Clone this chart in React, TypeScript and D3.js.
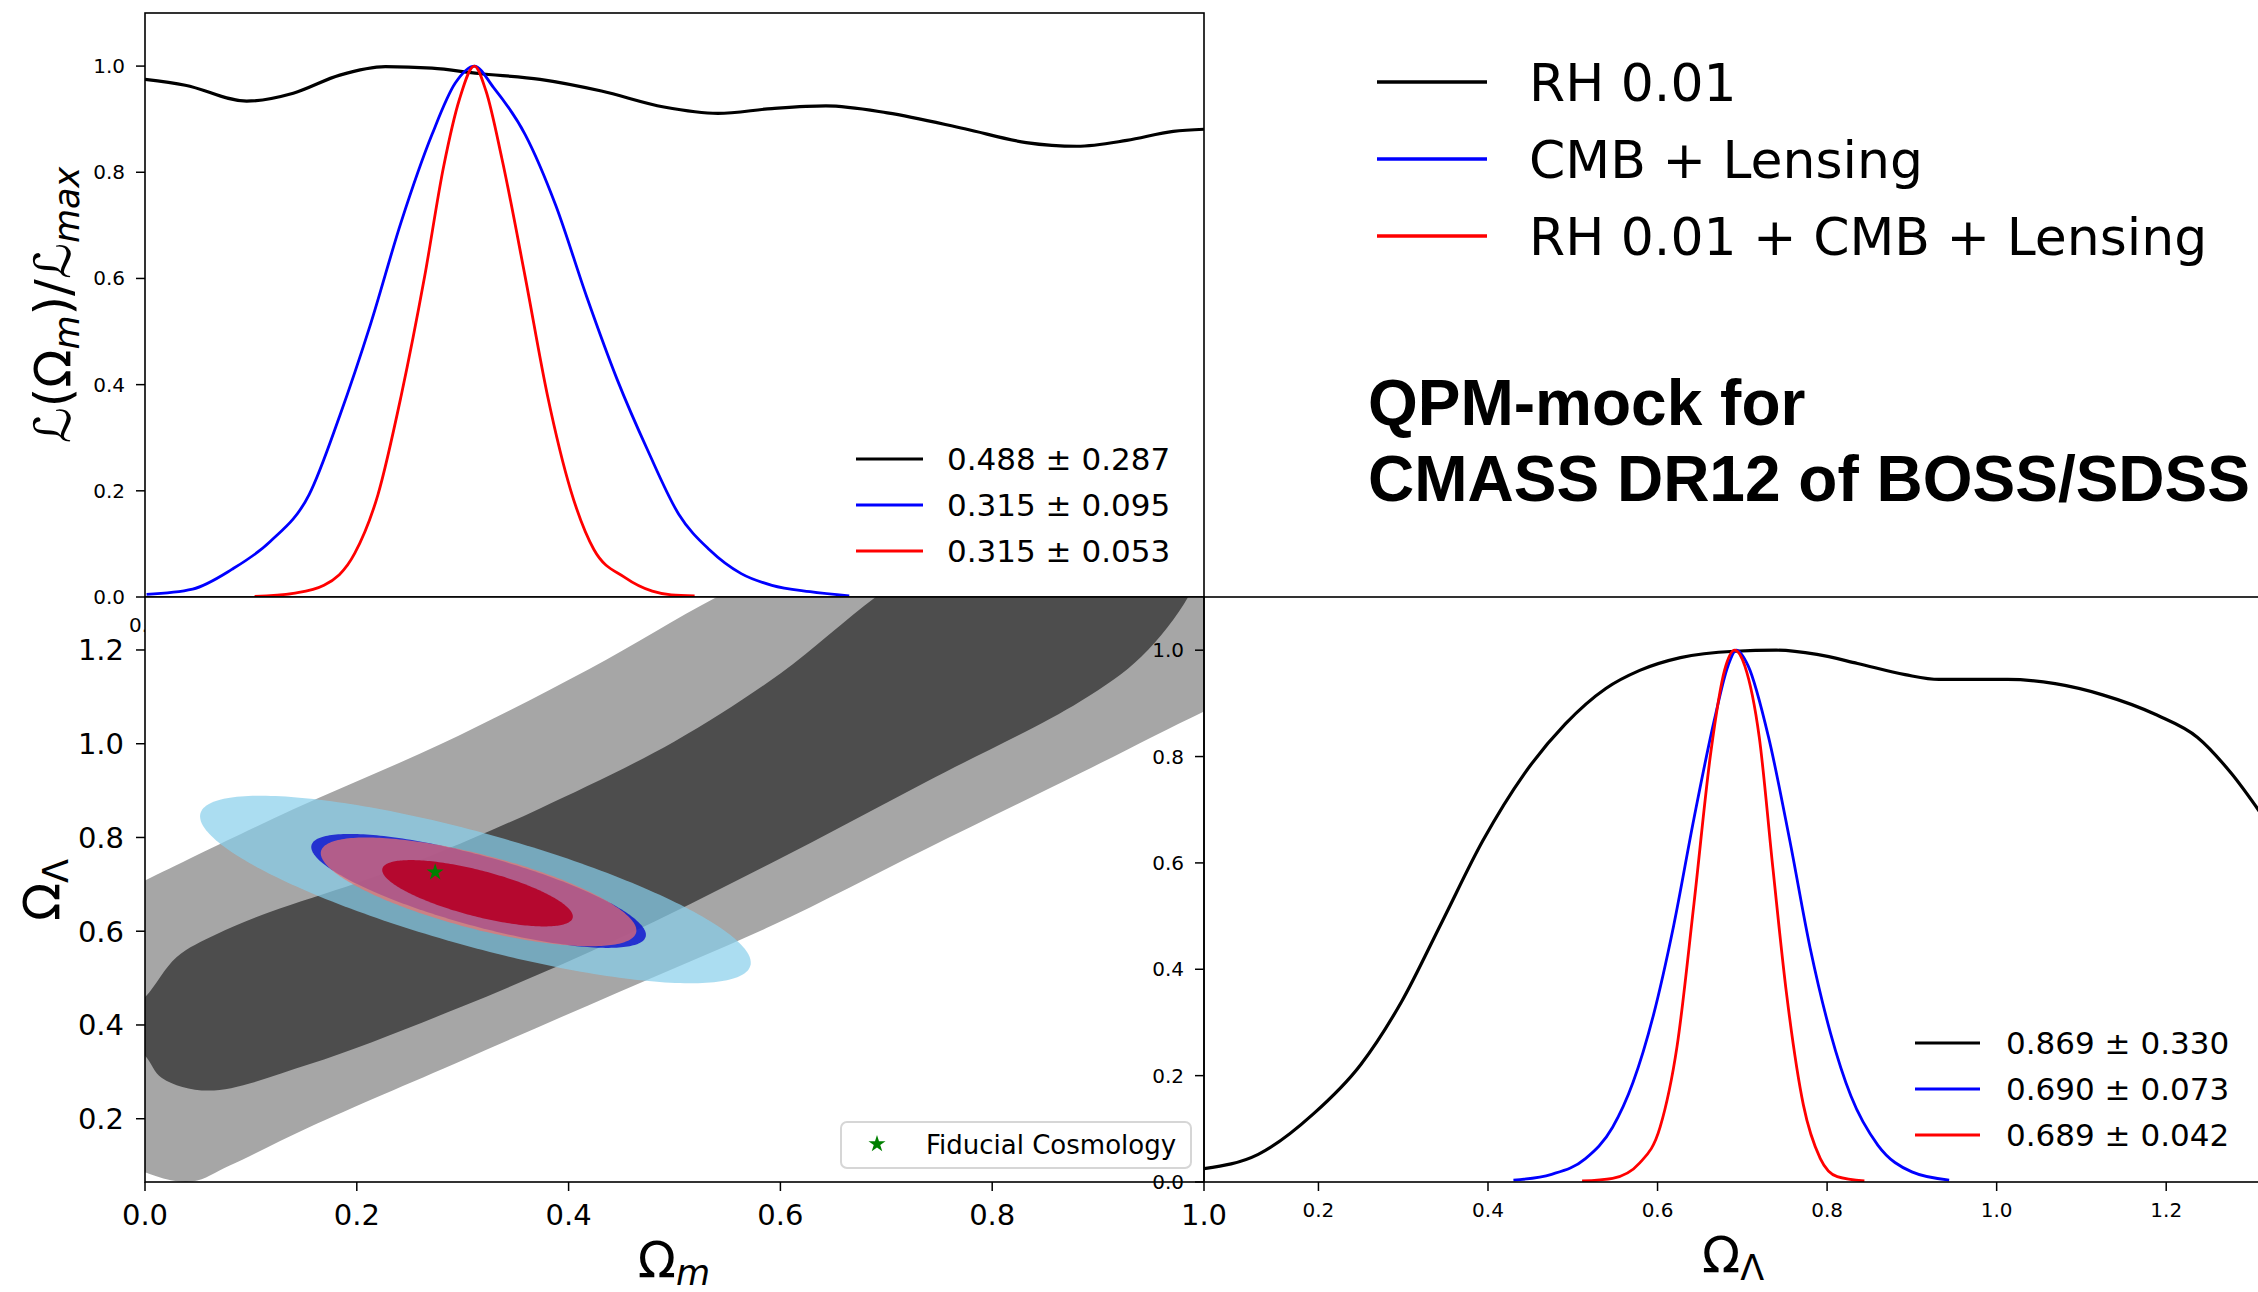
import React from 'react';
import * as d3 from 'd3';

type Pt = [number, number];

const W = 2258;
const H = 1292;

// Normalised marginal likelihood of Omega_m
const omRH: Pt[] = [
  [0.0, 0.975], [0.038, 0.964], [0.096, 0.934], [0.14, 0.949], [0.184, 0.983], [0.227, 0.999],
  [0.271, 0.996], [0.315, 0.986], [0.373, 0.975], [0.431, 0.953], [0.49, 0.923], [0.541, 0.911],
  [0.592, 0.92], [0.643, 0.925], [0.701, 0.912], [0.774, 0.882], [0.832, 0.856], [0.88, 0.849],
  [0.927, 0.86], [0.971, 0.877], [1.0, 0.881],
];
const omCMB: Pt[] = [
  [0.0015, 0.005], [0.045, 0.015], [0.082, 0.052], [0.118, 0.104], [0.155, 0.193], [0.184, 0.342],
  [0.213, 0.514], [0.242, 0.707], [0.271, 0.871], [0.293, 0.968], [0.311, 1.0], [0.329, 0.96],
  [0.359, 0.871], [0.388, 0.737], [0.417, 0.566], [0.446, 0.409], [0.475, 0.275], [0.504, 0.156],
  [0.533, 0.089], [0.563, 0.044], [0.592, 0.022], [0.628, 0.01], [0.665, 0.002],
];
const omComb: Pt[] = [
  [0.1035, 0.001], [0.14, 0.007], [0.169, 0.022], [0.198, 0.082], [0.22, 0.193], [0.242, 0.38],
  [0.264, 0.603], [0.282, 0.811], [0.297, 0.938], [0.311, 1.0], [0.322, 0.953], [0.337, 0.826],
  [0.359, 0.603], [0.38, 0.38], [0.402, 0.201], [0.424, 0.089], [0.453, 0.037], [0.479, 0.011],
  [0.497, 0.004], [0.519, 0.002],
];

// Normalised marginal likelihood of Omega_Lambda
const olRH: Pt[] = [
  [0.065, 0.025], [0.129, 0.052], [0.194, 0.128], [0.25, 0.221], [0.298, 0.339], [0.346, 0.49],
  [0.394, 0.642], [0.443, 0.768], [0.491, 0.861], [0.539, 0.928], [0.579, 0.962], [0.627, 0.986],
  [0.691, 0.998], [0.74, 1.0], [0.788, 0.992], [0.836, 0.975], [0.892, 0.954], [0.932, 0.945],
  [1.013, 0.945], [1.069, 0.937], [1.125, 0.916], [1.189, 0.878], [1.237, 0.836], [1.277, 0.768],
  [1.313, 0.69],
];
const olCMB: Pt[] = [
  [0.43, 0.0035], [0.475, 0.0145], [0.515, 0.044], [0.547, 0.103], [0.571, 0.187], [0.595, 0.313],
  [0.619, 0.482], [0.643, 0.684], [0.667, 0.869], [0.683, 0.97], [0.693, 1.0], [0.707, 0.97],
  [0.731, 0.836], [0.756, 0.642], [0.78, 0.44], [0.804, 0.28], [0.828, 0.162], [0.86, 0.069],
  [0.9, 0.019], [0.944, 0.0035],
];
const olComb: Pt[] = [
  [0.511, 0.002], [0.547, 0.007], [0.579, 0.036], [0.603, 0.103], [0.623, 0.255], [0.643, 0.524],
  [0.663, 0.81], [0.679, 0.962], [0.691, 1.0], [0.703, 0.97], [0.72, 0.836], [0.736, 0.591],
  [0.752, 0.356], [0.772, 0.145], [0.792, 0.044], [0.812, 0.01], [0.844, 0.002],
];

// RH 0.01 joint (Omega_m, Omega_Lambda) confidence regions, traced outlines
const rhOuter: Pt[] = [
  [-0.06, 0.64], [0.0, 0.708], [0.14, 0.86], [0.28, 1.0], [0.42, 1.16], [0.54, 1.313],
  [0.64, 1.42], [0.85, 1.52], [1.06, 1.4], [1.08, 1.15], [1.0, 1.069], [0.883, 0.937],
  [0.737, 0.775], [0.592, 0.612], [0.446, 0.469], [0.3, 0.325], [0.155, 0.182], [0.08, 0.1],
  [0.045, 0.066], [0.01, 0.078], [-0.04, 0.14], [-0.08, 0.35],
];
const rhInner: Pt[] = [
  [-0.03, 0.4], [0.0, 0.459], [0.03, 0.545], [0.067, 0.593], [0.118, 0.641], [0.2, 0.703],
  [0.271, 0.762], [0.373, 0.862], [0.5, 1.005], [0.6, 1.15], [0.69, 1.313], [0.76, 1.42],
  [0.9, 1.47], [1.0, 1.4], [0.985, 1.313], [0.941, 1.186], [0.883, 1.09], [0.737, 0.918],
  [0.592, 0.746], [0.446, 0.583], [0.3, 0.44], [0.155, 0.316], [0.06, 0.26], [0.016, 0.287],
  [0.0, 0.335],
];

// Gaussian contours: centre, half-extent in each parameter, correlation
type Contour = { cx: number; cy: number; hx: number; hy: number; rho: number };
const cmb2: Contour = { cx: 0.312, cy: 0.689, hx: 0.26, hy: 0.2, rho: -0.78 };
const cmb1: Contour = { cx: 0.315, cy: 0.686, hx: 0.158, hy: 0.1216, rho: -0.77 };
const comb2: Contour = { cx: 0.315, cy: 0.684, hx: 0.149, hy: 0.116, rho: -0.71 };
const comb1: Contour = { cx: 0.314, cy: 0.681, hx: 0.09, hy: 0.0708, rho: -0.7 };

const fiducial: Pt = [0.274, 0.726];

const likeTicks = [0, 0.2, 0.4, 0.6, 0.8, 1.0];
const omTicks = [0, 0.2, 0.4, 0.6, 0.8, 1.0];
const olTicks = [0.2, 0.4, 0.6, 0.8, 1.0, 1.2];

const seriesNames = ['RH 0.01', 'CMB + Lensing', 'RH 0.01 + CMB + Lensing'];
const seriesColors = ['#000000', '#0000ff', '#ff0000'];
const omSummary = ['0.488 \u00b1 0.287', '0.315 \u00b1 0.095', '0.315 \u00b1 0.053'];
const olSummary = ['0.869 \u00b1 0.330', '0.690 \u00b1 0.073', '0.689 \u00b1 0.042'];
const titleLines = ['QPM-mock for', 'CMASS DR12 of BOSS/SDSS'];

const FONT = "'DejaVu Sans', sans-serif";

function contourPoints(e: Contour, n = 240): Pt[] {
  const s = Math.sqrt(1 - e.rho * e.rho);
  return d3.range(n).map((i) => {
    const t = (2 * Math.PI * i) / n;
    return [e.cx + e.hx * Math.cos(t), e.cy + e.hy * (e.rho * Math.cos(t) + s * Math.sin(t))] as Pt;
  });
}

const fmt = d3.format('.1f');

export default function App() {
  const xOm = d3.scaleLinear().domain([0, 1]).range([145, 1204]);
  const yLikeTop = d3.scaleLinear().domain([0, 1.1]).range([597, 13]);
  const yOl = d3.scaleLinear().domain([0.065, 1.313]).range([1182, 597]);
  const xOl = d3.scaleLinear().domain([0.065, 1.313]).range([1204, 2262]);
  const yLikeRight = d3.scaleLinear().domain([0, 1.1]).range([1182, 597]);

  const topLine = d3.line<Pt>().x((d) => xOm(d[0])).y((d) => yLikeTop(d[1])).curve(d3.curveMonotoneX);
  const rightLine = d3.line<Pt>().x((d) => xOl(d[0])).y((d) => yLikeRight(d[1])).curve(d3.curveMonotoneX);
  const bandPath = d3.line<Pt>().x((d) => xOm(d[0])).y((d) => yOl(d[1])).curve(d3.curveCatmullRomClosed.alpha(0.5));
  const ellPath = d3.line<Pt>().x((d) => xOm(d[0])).y((d) => yOl(d[1])).curve(d3.curveLinearClosed);

  const omSeries = [omRH, omCMB, omComb];
  const olSeries = [olRH, olCMB, olComb];
  const lw = [3.2, 2.8, 2.8];

  const star = d3.symbol().type(d3.symbolStar).size(90)();

  const tl = { x0: 145, x1: 1204, y0: 13, y1: 597 };
  const bl = { x0: 145, x1: 1204, y0: 597, y1: 1182 };
  const rp = { x0: 1204, x1: 2262, y0: 597, y1: 1182 };

  return (
    <svg
      width={W}
      height={H}
      viewBox={`0 0 ${W} ${H}`}
      style={{ position: 'absolute', left: 0, top: 0, display: 'block', background: '#fff' }}
      fontFamily={FONT}
    >
      <defs>
        <clipPath id="clipTL">
          <rect x={tl.x0} y={tl.y0} width={tl.x1 - tl.x0} height={tl.y1 - tl.y0} />
        </clipPath>
        <clipPath id="clipBL">
          <rect x={bl.x0} y={bl.y0} width={bl.x1 - bl.x0} height={bl.y1 - bl.y0} />
        </clipPath>
        <clipPath id="clipR">
          <rect x={rp.x0} y={rp.y0} width={rp.x1 - rp.x0} height={rp.y1 - rp.y0} />
        </clipPath>
      </defs>
      <rect x={0} y={0} width={W} height={H} fill="#fff" />

      {/* ---- Omega_m marginal (top left) ---- */}
      <g>
        <g clipPath="url(#clipTL)">
          {omSeries.map((s, i) => (
            <path key={i} d={topLine(s) || ''} fill="none" stroke={seriesColors[i]} strokeWidth={lw[i]} strokeLinejoin="round" />
          ))}
        </g>
        <rect x={tl.x0} y={tl.y0} width={tl.x1 - tl.x0} height={tl.y1 - tl.y0} fill="none" stroke="#000" strokeWidth={1.6} />
        {likeTicks.map((t) => (
          <g key={t}>
            <line x1={tl.x0 - 9} x2={tl.x0} y1={yLikeTop(t)} y2={yLikeTop(t)} stroke="#000" strokeWidth={1.5} />
            <text x={tl.x0 - 20} y={yLikeTop(t) + 7} fontSize={20} textAnchor="end">{fmt(t)}</text>
          </g>
        ))}
        <text x={xOm(0)} y={632} fontSize={20} textAnchor="middle">{fmt(omTicks[0])}</text>
        <text transform="translate(70,305) rotate(-90)" fontSize={50} textAnchor="middle">
          {'\u2112(\u03a9'}
          <tspan fontSize={35} fontStyle="italic" dy={9}>m</tspan>
          <tspan dy={-9}>{')/\u2112'}</tspan>
          <tspan fontSize={35} fontStyle="italic" dy={9}>max</tspan>
        </text>
        {omSummary.map((s, i) => (
          <g key={s}>
            <line x1={856} x2={923} y1={459 + 46 * i} y2={459 + 46 * i} stroke={seriesColors[i]} strokeWidth={3} />
            <text x={947} y={459 + 46 * i + 11} fontSize={31}>{s}</text>
          </g>
        ))}
      </g>

      {/* ---- joint contours (bottom left) ---- */}
      <g>
        <rect x={bl.x0} y={bl.y0} width={bl.x1 - bl.x0} height={bl.y1 - bl.y0} fill="#fff" />
        <g clipPath="url(#clipBL)">
          <path d={bandPath(rhOuter) || ''} fill="#a6a6a6" />
          <path d={bandPath(rhInner) || ''} fill="#4d4d4d" />
          <path d={ellPath(contourPoints(cmb2)) || ''} fill="#87ceeb" fillOpacity={0.7} />
          <path d={ellPath(contourPoints(cmb1)) || ''} fill="#0000cd" fillOpacity={0.75} />
          <path d={ellPath(contourPoints(comb2)) || ''} fill="#ef706c" fillOpacity={0.7} />
          <path d={ellPath(contourPoints(comb1)) || ''} fill="#b5082f" />
          <path d={star || ''} transform={`translate(${xOm(fiducial[0])},${yOl(fiducial[1])})`} fill="#008000" />
        </g>
        <rect x={bl.x0} y={bl.y0} width={bl.x1 - bl.x0} height={bl.y1 - bl.y0} fill="none" stroke="#000" strokeWidth={1.6} />
        {olTicks.map((t) => (
          <g key={t}>
            <line x1={bl.x0 - 9} x2={bl.x0} y1={yOl(t)} y2={yOl(t)} stroke="#000" strokeWidth={1.5} />
            <text x={bl.x0 - 21} y={yOl(t) + 10.5} fontSize={29} textAnchor="end">{fmt(t)}</text>
          </g>
        ))}
        {omTicks.map((t) => (
          <g key={t}>
            <line x1={xOm(t)} x2={xOm(t)} y1={bl.y1} y2={bl.y1 + 9} stroke="#000" strokeWidth={1.5} />
            <text x={xOm(t)} y={1225} fontSize={29} textAnchor="middle">{fmt(t)}</text>
          </g>
        ))}
        <rect x={841} y={1122} width={350} height={46} rx={6} fill="#fff" fillOpacity={0.8} stroke="#d6d6d6" strokeWidth={2} />
        <path d={star || ''} transform="translate(877,1144)" fill="#008000" />
        <text x={926} y={1154} fontSize={26}>Fiducial Cosmology</text>
        <text x={674} y={1277} fontSize={50} textAnchor="middle">
          {'\u03a9'}
          <tspan fontSize={35} fontStyle="italic" dy={8}>m</tspan>
        </text>
        <text transform="translate(59,890) rotate(-90)" fontSize={50} textAnchor="middle">
          {'\u03a9'}
          <tspan fontSize={35} dy={9}>{'\u039b'}</tspan>
        </text>
      </g>

      {/* ---- Omega_Lambda marginal (right) ---- */}
      <g>
        <g clipPath="url(#clipR)">
          {olSeries.map((s, i) => (
            <path key={i} d={rightLine(s) || ''} fill="none" stroke={seriesColors[i]} strokeWidth={lw[i]} strokeLinejoin="round" />
          ))}
        </g>
        <rect x={rp.x0} y={rp.y0} width={rp.x1 - rp.x0} height={rp.y1 - rp.y0} fill="none" stroke="#000" strokeWidth={1.6} />
        {likeTicks.map((t) => (
          <g key={t}>
            <line x1={rp.x0 - 9} x2={rp.x0} y1={yLikeRight(t)} y2={yLikeRight(t)} stroke="#000" strokeWidth={1.5} />
            <text x={rp.x0 - 20} y={yLikeRight(t) + 7} fontSize={20} textAnchor="end">{fmt(t)}</text>
          </g>
        ))}
        {olTicks.map((t) => (
          <g key={t}>
            <line x1={xOl(t)} x2={xOl(t)} y1={rp.y1} y2={rp.y1 + 9} stroke="#000" strokeWidth={1.5} />
            <text x={xOl(t)} y={1217} fontSize={20} textAnchor="middle">{fmt(t)}</text>
          </g>
        ))}
        {olSummary.map((s, i) => (
          <g key={s}>
            <line x1={1915} x2={1980} y1={1043 + 46 * i} y2={1043 + 46 * i} stroke={seriesColors[i]} strokeWidth={3} />
            <text x={2006} y={1043 + 46 * i + 11} fontSize={31}>{s}</text>
          </g>
        ))}
        <text x={1733} y={1272} fontSize={50} textAnchor="middle">
          {'\u03a9'}
          <tspan fontSize={35} dy={8}>{'\u039b'}</tspan>
        </text>
      </g>

      {/* ---- figure legend and title ---- */}
      <g>
        {seriesNames.map((s, i) => (
          <g key={s}>
            <line x1={1377} x2={1487} y1={82 + 77 * i} y2={82 + 77 * i} stroke={seriesColors[i]} strokeWidth={3.5} />
            <text x={1529} y={82 + 77 * i + 19} fontSize={52}>{s}</text>
          </g>
        ))}
        {titleLines.map((s, i) => (
          <text key={s} x={1368} y={425 + 76 * i} fontSize={64} fontWeight="bold" fontFamily="'Liberation Sans', Arial, sans-serif">
            {s}
          </text>
        ))}
      </g>
    </svg>
  );
}
